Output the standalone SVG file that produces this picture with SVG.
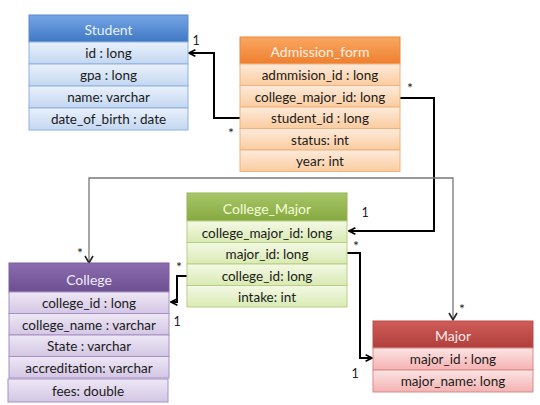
<svg xmlns="http://www.w3.org/2000/svg" width="540" height="405" viewBox="0 0 540 405">
<defs>
<linearGradient id="hB" x1="0" y1="0" x2="0" y2="1"><stop offset="0" stop-color="#76a5e6"/><stop offset="1" stop-color="#3f78c2"/></linearGradient>
<linearGradient id="rB" x1="0" y1="0" x2="0" y2="1"><stop offset="0" stop-color="#eaf1fb"/><stop offset="1" stop-color="#c3d7f1"/></linearGradient>
<linearGradient id="hO" x1="0" y1="0" x2="0" y2="1"><stop offset="0" stop-color="#f9a762"/><stop offset="1" stop-color="#ef7f2e"/></linearGradient>
<linearGradient id="rO" x1="0" y1="0" x2="0" y2="1"><stop offset="0" stop-color="#fdebdc"/><stop offset="1" stop-color="#fbcc9f"/></linearGradient>
<linearGradient id="hG" x1="0" y1="0" x2="0" y2="1"><stop offset="0" stop-color="#a8c76a"/><stop offset="1" stop-color="#86a840"/></linearGradient>
<linearGradient id="rG" x1="0" y1="0" x2="0" y2="1"><stop offset="0" stop-color="#f4f9e6"/><stop offset="1" stop-color="#d9eab3"/></linearGradient>
<linearGradient id="hP" x1="0" y1="0" x2="0" y2="1"><stop offset="0" stop-color="#8b6db0"/><stop offset="1" stop-color="#6c4f91"/></linearGradient>
<linearGradient id="rP" x1="0" y1="0" x2="0" y2="1"><stop offset="0" stop-color="#eee8f5"/><stop offset="1" stop-color="#d3c6e4"/></linearGradient>
<linearGradient id="hR" x1="0" y1="0" x2="0" y2="1"><stop offset="0" stop-color="#cf5c58"/><stop offset="1" stop-color="#b03f3c"/></linearGradient>
<linearGradient id="rR" x1="0" y1="0" x2="0" y2="1"><stop offset="0" stop-color="#fce4e4"/><stop offset="1" stop-color="#f4b2b1"/></linearGradient>
<marker id="arr" viewBox="0 0 10 10" refX="9" refY="5" markerWidth="8" markerHeight="8" markerUnits="userSpaceOnUse" orient="auto"><path d="M1,1 L9,5 L1,9" fill="none" stroke="#000" stroke-width="2"/></marker>
</defs>
<style>
text{font-family:Lato,"Open Sans","Liberation Sans",sans-serif;font-size:13.5px;text-anchor:middle;dominant-baseline:central;fill:#1b1b1b}
.h{font-size:14px}
.lbl{font-size:12.5px;fill:#222}
.st{font-size:14px;fill:#222}
.blue .hd{fill:url(#hB);stroke:#5b8ad0}.blue .r{fill:url(#rB);stroke:#8fb2e0}.blue .h{fill:#e6f0ff}
.or .hd{fill:url(#hO);stroke:#e9883c}.or .r{fill:url(#rO);stroke:#f2b27f}.or .h{fill:#fff1e2}
.gr .hd{fill:url(#hG);stroke:#94b455}.gr .r{fill:url(#rG);stroke:#b7d07f}.gr .h{fill:#f3ffd6}
.pu .hd{fill:url(#hP);stroke:#7a5ea0}.pu .r{fill:url(#rP);stroke:#a690c4}.pu .h{fill:#f3ecff}
.re .hd{fill:url(#hR);stroke:#b9504d}.re .r{fill:url(#rR);stroke:#d98a88}.re .h{fill:#ffecec}
.c{fill:none;stroke:#000;stroke-width:2;marker-end:url(#arr)}
</style>

<g id="connectors">
<path class="c" d="M240,118 H214 V53 H189"/>
<path class="c" d="M400,98 H434 V231 H349"/>
<path class="c" d="M347,253 H360 V358 H372"/>
<path class="c" d="M187,276 H177 V302 H171"/>
<path d="M89,263 V178 H453 V320" fill="none" stroke="#777" stroke-width="1.3"/>
<path d="M85,256 L89,263 L93,256" fill="none" stroke="#222" stroke-width="1.6"/>
<path d="M449,313 L453,320 L457,313" fill="none" stroke="#222" stroke-width="1.6"/>
<text class="lbl" x="196" y="40">1</text>
<text class="st" x="231" y="132">*</text>
<text class="st" x="410" y="87">*</text>
<text class="lbl" x="365" y="212">1</text>
<text class="st" x="356" y="245">*</text>
<text class="lbl" x="355" y="373">1</text>
<text class="st" x="179" y="266">*</text>
<text class="lbl" x="177" y="321">1</text>
<text class="st" x="80" y="252">*</text>
<text class="st" x="462" y="308">*</text>
</g>

<g id="student" class="blue">
<rect class="hd" x="29" y="15" width="159" height="27"/>
<text class="h" x="108.5" y="29">Student</text>
<rect class="r" x="29" y="42" width="159" height="22"/><text x="108.5" y="53">id : long</text>
<rect class="r" x="29" y="64" width="159" height="22"/><text x="108.5" y="75">gpa : long</text>
<rect class="r" x="29" y="86" width="159" height="22"/><text x="108.5" y="97">name: varchar</text>
<rect class="r" x="29" y="108" width="159" height="22"/><text x="108.5" y="119">date_of_birth : date</text>
</g>

<g id="admission_form" class="or">
<rect class="hd" x="240" y="37" width="160" height="27"/>
<text class="h" x="320" y="51">Admission_form</text>
<rect class="r" x="240" y="64" width="160" height="21.5"/><text x="320" y="75">admmision_id : long</text>
<rect class="r" x="240" y="85.5" width="160" height="21.5"/><text x="320" y="97">college_major_id: long</text>
<rect class="r" x="240" y="107" width="160" height="21.5"/><text x="320" y="118">student_id : long</text>
<rect class="r" x="240" y="128.5" width="160" height="21.5"/><text x="320" y="140">status: int</text>
<rect class="r" x="240" y="150" width="160" height="21.5"/><text x="320" y="161">year: int</text>
</g>

<g id="college_major" class="gr">
<rect class="hd" x="187" y="193" width="160" height="28"/>
<text class="h" x="267" y="208">College_Major</text>
<rect class="r" x="187" y="221" width="160" height="21.5"/><text x="267" y="233">college_major_id: long</text>
<rect class="r" x="187" y="242.5" width="160" height="21.5"/><text x="267" y="254">major_id: long</text>
<rect class="r" x="187" y="264" width="160" height="21.5"/><text x="267" y="276">college_id: long</text>
<rect class="r" x="187" y="285.5" width="160" height="21.5"/><text x="267" y="297">intake: int</text>
</g>

<g id="college" class="pu">
<rect class="hd" x="9" y="263" width="160" height="29"/>
<text class="h" x="89" y="279">College</text>
<rect class="r" x="9" y="292" width="160" height="21.5"/><text x="89" y="303">college_id : long</text>
<rect class="r" x="9" y="313.5" width="160" height="21.5"/><text x="89" y="325">college_name : varchar</text>
<rect class="r" x="9" y="335" width="160" height="21.5"/><text x="89" y="346">State : varchar</text>
<rect class="r" x="9" y="356.5" width="160" height="21.5"/><text x="89" y="368">accreditation: varchar</text>
<rect class="r" x="8" y="379" width="160" height="23"/><text x="88" y="391">fees: double</text>
</g>

<g id="major" class="re">
<rect class="hd" x="373" y="321" width="160" height="27"/>
<text class="h" x="453" y="335">Major</text>
<rect class="r" x="373" y="348" width="160" height="22"/><text x="453" y="359">major_id : long</text>
<rect class="r" x="373" y="370" width="160" height="22"/><text x="453" y="381">major_name: long</text>
</g>
</svg>
